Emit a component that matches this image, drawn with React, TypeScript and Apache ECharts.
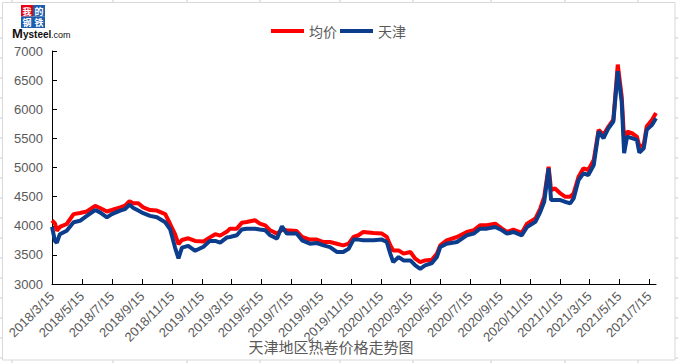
import React, { useEffect, useRef } from "react";
import * as echarts from "echarts";

const dates: string[] = [
  "2018-03-15", "2018-03-21", "2018-03-25", "2018-03-31", "2018-04-14", "2018-04-28",
  "2018-05-11", "2018-05-25", "2018-06-11", "2018-06-21", "2018-07-05", "2018-07-15",
  "2018-08-01", "2018-08-11", "2018-08-20", "2018-08-28", "2018-09-07", "2018-09-17",
  "2018-10-01", "2018-10-15", "2018-11-01", "2018-11-11", "2018-11-21", "2018-11-28",
  "2018-12-05", "2018-12-18", "2019-01-01", "2019-01-18", "2019-01-31", "2019-02-11",
  "2019-02-21", "2019-03-07", "2019-03-13", "2019-03-27", "2019-04-06", "2019-04-16",
  "2019-05-03", "2019-05-13", "2019-05-24", "2019-06-03", "2019-06-17", "2019-06-27",
  "2019-07-07", "2019-07-27", "2019-08-07", "2019-08-23", "2019-09-06", "2019-09-20",
  "2019-10-03", "2019-10-17", "2019-10-30", "2019-11-10", "2019-11-20", "2019-11-30",
  "2019-12-10", "2019-12-31", "2020-01-17", "2020-01-27", "2020-02-03", "2020-02-09",
  "2020-02-20", "2020-03-01", "2020-03-15", "2020-03-25", "2020-04-04", "2020-04-14",
  "2020-04-28", "2020-05-08", "2020-05-15", "2020-05-28", "2020-06-18", "2020-07-08",
  "2020-07-22", "2020-08-04", "2020-08-18", "2020-09-04", "2020-09-18", "2020-09-28",
  "2020-10-11", "2020-10-28", "2020-11-08", "2020-11-25", "2020-12-05", "2020-12-13",
  "2020-12-22", "2020-12-27", "2021-01-04", "2021-01-15", "2021-01-25", "2021-02-04",
  "2021-02-11", "2021-02-21", "2021-03-03", "2021-03-13", "2021-03-24", "2021-04-03",
  "2021-04-13", "2021-04-23", "2021-05-03", "2021-05-12", "2021-05-20", "2021-05-25",
  "2021-05-31", "2021-06-10", "2021-06-20", "2021-06-25", "2021-07-04", "2021-07-10",
  "2021-07-21", "2021-07-29",
];

const avgPrice: number[] = [
  4090, 4040, 3915, 3980, 4030, 4200,
  4220, 4245, 4340, 4305, 4245, 4270,
  4315, 4345, 4420, 4385, 4385, 4315,
  4270, 4260, 4200, 4030, 3855, 3685,
  3755, 3785, 3740, 3730, 3800, 3855,
  3830, 3900, 3950, 3950, 4050, 4065,
  4095, 4037, 4008, 3922, 3865, 3930,
  3922, 3910, 3808, 3762, 3762, 3720,
  3720, 3692, 3664, 3692, 3808, 3837,
  3894, 3876, 3865, 3808, 3664, 3577,
  3577, 3521, 3550, 3434, 3376, 3405,
  3417, 3521, 3664, 3750, 3807, 3893,
  3922, 4008, 4008, 4037, 3951, 3893,
  3933, 3876, 4037, 4124, 4296, 4497,
  5014, 4612, 4640, 4555, 4497, 4497,
  4555, 4842, 4986, 4957, 5129, 5646,
  5560, 5703, 5819, 6767, 6221, 5474,
  5617, 5588, 5531, 5359, 5388, 5703,
  5819, 5934,
];

const tianjin: number[] = [
  3980, 3740, 3710, 3855, 3915, 4060,
  4085, 4170, 4270, 4230, 4145, 4200,
  4260, 4285, 4360, 4305, 4260, 4215,
  4170, 4145, 4060, 3940, 3625, 3440,
  3625, 3655, 3570, 3640, 3740, 3740,
  3710, 3800, 3808, 3837, 3935, 3950,
  3950, 3935, 3922, 3837, 3779, 3990,
  3865, 3865, 3750, 3692, 3704, 3664,
  3634, 3550, 3550, 3606, 3762, 3762,
  3750, 3750, 3762, 3720, 3521, 3376,
  3463, 3405, 3405, 3319, 3261, 3319,
  3359, 3463, 3635, 3692, 3721, 3836,
  3865, 3950, 3950, 3979, 3922, 3865,
  3893, 3836, 3979, 4066, 4238, 4411,
  4985, 4440, 4440, 4440, 4411, 4383,
  4469, 4785, 4900, 4871, 5043, 5617,
  5503, 5674, 5790, 6652, 6135, 5245,
  5531, 5503, 5474, 5256, 5330, 5646,
  5732, 5847,
];

const tickDates: string[] = [
  "2018-03-15", "2018-05-15", "2018-07-15", "2018-09-15", "2018-11-15",
  "2019-01-15", "2019-03-15", "2019-05-15", "2019-07-15", "2019-09-15", "2019-11-15",
  "2020-01-15", "2020-03-15", "2020-05-15", "2020-07-15", "2020-09-15", "2020-11-15",
  "2021-01-15", "2021-03-15", "2021-05-15", "2021-07-15",
];

const seriesNames = ["均价", "天津"];
const titleText = "天津地区热卷价格走势图";

const toTs = (s: string) => {
  const [y, m, d] = s.split("-").map(Number);
  return new Date(y, m - 1, d).getTime();
};

export default function App() {
  const ref = useRef<HTMLDivElement>(null);

  useEffect(() => {
    document.body.style.margin = "0";
    if (!ref.current) return;
    const chart = echarts.init(ref.current, null, { renderer: "svg" });
    const tickTs = tickDates.map(toTs);
    const fmt = (v: number) => {
      const d = new Date(v);
      return `${d.getFullYear()}/${d.getMonth() + 1}/${d.getDate()}`;
    };

    const gridStub = "#c9c9dc";
    const stubs: any[] = [];
    for (let y = 18; y <= 358; y += 20) {
      stubs.push({ type: "line", shape: { x1: 0, y1: y, x2: 2.5, y2: y }, style: { stroke: gridStub, lineWidth: 1 } });
      stubs.push({ type: "line", shape: { x1: 675, y1: y, x2: 678, y2: y }, style: { stroke: gridStub, lineWidth: 1 } });
    }
    [12, 113, 187, 260, 340, 413, 491, 565, 638].forEach((x) => {
      stubs.push({ type: "line", shape: { x1: x, y1: 0, x2: x, y2: 2.5 }, style: { stroke: gridStub, lineWidth: 1 } });
      stubs.push({ type: "line", shape: { x1: x, y1: 360, x2: x, y2: 363 }, style: { stroke: gridStub, lineWidth: 1 } });
    });

    const logoFont = "bold 9px 'Noto Sans CJK SC'";

    chart.setOption({
      animation: false,
      backgroundColor: "#ffffff",
      grid: { left: 52, right: 22, top: 51, bottom: 79, containLabel: false },
      legend: {
        left: 266,
        top: 19,
        itemWidth: 33,
        itemHeight: 4,
        itemGap: 3,
        icon: "rect",
        data: seriesNames,
        textStyle: { color: "#595959", fontSize: 14, fontFamily: "Noto Sans CJK SC" },
      },
      xAxis: {
        type: "value",
        min: toTs("2018-03-15"),
        max: toTs("2021-07-29"),
        axisLine: { lineStyle: { color: "#000000", width: 1 } },
        axisTick: { show: true, inside: true, length: 5, customValues: tickTs, lineStyle: { color: "#000000" } },
        axisLabel: {
          customValues: tickTs,
          formatter: fmt,
          rotate: 45,
          margin: 10,
          color: "#595959",
          fontSize: 13,
          fontFamily: "Liberation Sans",
          showMinLabel: true,
          showMaxLabel: true,
        },
        splitLine: { show: false },
      },
      yAxis: {
        type: "value",
        min: 3000,
        max: 7000,
        interval: 500,
        axisLine: { show: true, lineStyle: { color: "#000000", width: 1 } },
        axisTick: { show: true, inside: true, length: 5, lineStyle: { color: "#000000" } },
        axisLabel: {
          margin: 9,
          color: "#595959",
          fontSize: 13,
          fontFamily: "Liberation Sans",
          formatter: (v: number) => String(v),
        },
        splitLine: { show: false },
      },
      series: [
        {
          name: seriesNames[0],
          type: "line",
          data: dates.map((d, i) => [toTs(d), avgPrice[i]]),
          showSymbol: false,
          color: "#ff0000",
          lineStyle: { color: "#ff0000", width: 4 },
        },
        {
          name: seriesNames[1],
          type: "line",
          data: dates.map((d, i) => [toTs(d), tianjin[i]]),
          showSymbol: false,
          color: "#0c3c8c",
          lineStyle: { color: "#0c3c8c", width: 4 },
        },
      ],
      graphic: [
        ...stubs,
        {
          type: "rect",
          shape: { x: 2.5, y: 2.5, width: 672.5, height: 357.5 },
          style: { fill: "none", stroke: "#d9d9d9", lineWidth: 1 },
          silent: true,
        },
        { type: "rect", shape: { x: 21, y: 5, width: 12, height: 11.5 }, style: { fill: "#e60012" } },
        { type: "rect", shape: { x: 33, y: 5, width: 12, height: 11.5 }, style: { fill: "#1d5fae" } },
        { type: "rect", shape: { x: 21, y: 16.5, width: 12, height: 11.5 }, style: { fill: "#1d5fae" } },
        { type: "rect", shape: { x: 33, y: 16.5, width: 12, height: 11.5 }, style: { fill: "#1d5fae" } },
        { type: "text", x: 27, y: 11, style: { text: "我", fill: "#fff", font: logoFont, align: "center", verticalAlign: "middle" } },
        { type: "text", x: 39, y: 11, style: { text: "的", fill: "#fff", font: logoFont, align: "center", verticalAlign: "middle" } },
        { type: "text", x: 27, y: 22.5, style: { text: "钢", fill: "#fff", font: logoFont, align: "center", verticalAlign: "middle" } },
        { type: "text", x: 39, y: 22.5, style: { text: "铁", fill: "#fff", font: logoFont, align: "center", verticalAlign: "middle" } },
        { type: "text", x: 12, y: 33.5, style: { text: "M", fill: "#111", font: "bold 13px 'Liberation Sans'", verticalAlign: "middle" } },
        { type: "text", x: 23, y: 34.5, style: { text: "ysteel", fill: "#111", font: "bold 10px 'Liberation Sans'", verticalAlign: "middle" } },
        { type: "text", x: 51, y: 34.5, style: { text: ".com", fill: "#111", font: "9px 'Liberation Sans'", verticalAlign: "middle" } },
        {
          type: "text",
          x: 331,
          y: 346,
          style: { text: titleText, fill: "#595959", font: "15px 'Noto Sans CJK SC'", align: "center", verticalAlign: "middle" },
        },
      ],
    });
    return () => chart.dispose();
  }, []);

  return <div ref={ref} style={{ width: 678, height: 363 }} />;
}
